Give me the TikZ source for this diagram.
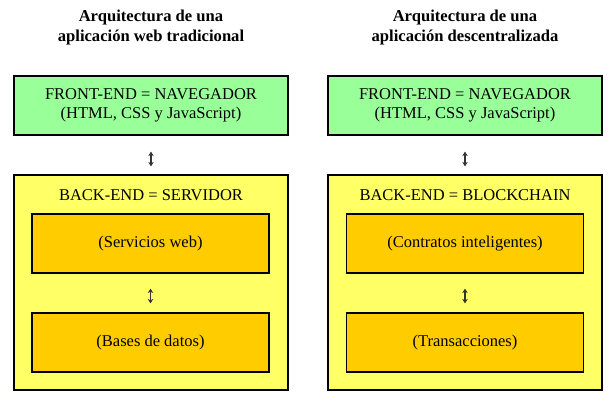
\documentclass[tikz,border=0pt]{standalone}
\usepackage{fontspec}
\setmainfont{Liberation Serif}
\usetikzlibrary{arrows.meta}
\definecolor{fegreen}{HTML}{99FF99}
\definecolor{beyellow}{HTML}{FFFF66}
\definecolor{inorange}{HTML}{FFCC00}
\definecolor{arrgray}{HTML}{333333}
\tikzset{
  titletext/.style={font=\fontsize{16.6}{20}\selectfont\bfseries, align=center, inner sep=0pt},
  frontbox/.style={draw=black, line width=1.2pt, fill=fegreen, minimum width=274pt, minimum height=59pt, inner sep=0pt, align=center, font=\fontsize{16.5}{19}\selectfont},
  backbox/.style={draw=black, line width=1.2pt, fill=beyellow, minimum width=274pt, minimum height=215pt, inner sep=0pt},
  innerbox/.style={draw=black, line width=1.2pt, fill=inorange, minimum width=237pt, minimum height=59pt, inner sep=0pt, font=\fontsize{16.5}{19}\selectfont},
  labeltext/.style={font=\fontsize{16.5}{19}\selectfont, inner sep=0pt},
  dblarrow/.style={draw=arrgray, line width=1.4pt, {Stealth[length=4.5pt,width=5.5pt]}-{Stealth[length=4.5pt,width=5.5pt]}}
}
\begin{document}
\begin{tikzpicture}[x=1pt,y=-1pt]
\useasboundingbox (0,0) rectangle (616,405);
% left column
\node[titletext] (tl) at (151,28) {Arquitectura de una\\aplicación web tradicional};
\node[frontbox] (fl) at (151,105.5) {FRONT-END = NAVEGADOR\\(HTML, CSS y JavaScript)};
\node[backbox] (bl) at (151,282.5) {};
\node[labeltext] (bll) at (151,195) {BACK-END = SERVIDOR};
\node[innerbox] (il1) at (150.5,243.5) {(Servicios web)};
\node[innerbox] (il2) at (150.5,342.5) {(Bases de datos)};
\draw[dblarrow, shorten <=16pt, shorten >=8pt] (fl.south) -- (bl.north);
\draw[dblarrow, shorten <=15pt, shorten >=9pt] (il1.south) -- (il2.north);
% right column
\node[titletext] (tr) at (465,28) {Arquitectura de una\\aplicación descentralizada};
\node[frontbox] (fr) at (465,105.5) {FRONT-END = NAVEGADOR\\(HTML, CSS y JavaScript)};
\node[backbox] (br) at (465,282.5) {};
\node[labeltext] (brl) at (465,195) {BACK-END = BLOCKCHAIN};
\node[innerbox] (ir1) at (465,243.5) {(Contratos inteligentes)};
\node[innerbox] (ir2) at (465,342.5) {(Transacciones)};
\draw[dblarrow, shorten <=16pt, shorten >=8pt] (fr.south) -- (br.north);
\draw[dblarrow, shorten <=15pt, shorten >=9pt] (ir1.south) -- (ir2.north);
\end{tikzpicture}
\end{document}
